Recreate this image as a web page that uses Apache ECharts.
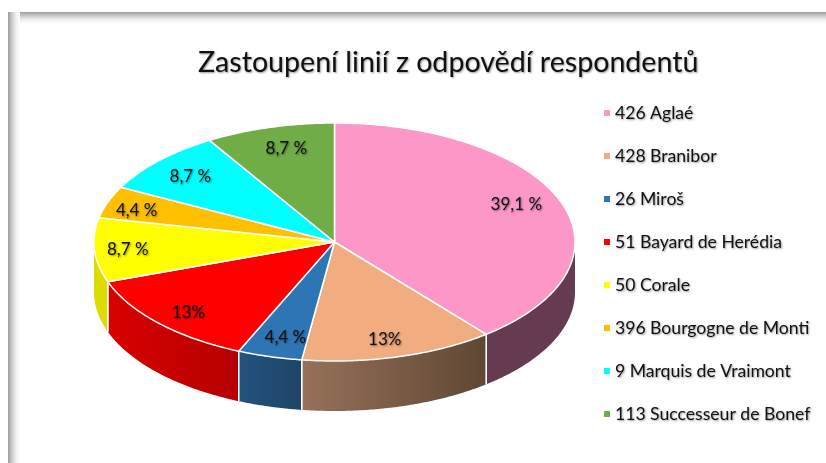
<!DOCTYPE html>
<html><head><meta charset="utf-8">
<style>html,body{margin:0;padding:0;background:#fff}#c{width:826px;height:463px}</style>
<script src="https://cdn.jsdelivr.net/npm/echarts@6/dist/echarts.min.js"></script>
</head><body><div id="c"></div>
<script>
const categories = ['426 Aglaé','428 Branibor','26 Miroš','51 Bayard de Herédia','50 Corale','396 Bourgogne de Monti','9 Marquis de Vraimont','113 Successeur de Bonef'];
const values = [9,3,1,3,2,1,2,2];
const labels = ['39,1 %','13%','4,4 %','13%','8,7 %','4,4 %','8,7 %','8,7 %'];
const topColors = ['#fd97c8','#f1ad80','#2e75b6','#ff0000','#ffff00','#ffc000','#00ffff','#70ad47'];
const wallStart = ['#663a50','#97715a','#24527f','#d90000','#dcdc00','#b38600','#00b3b3','#4e7932'];
const wallEnd   = ['#663a50','#5f4733','#1d4566','#b50000','#dcdc00','#b38600','#00b3b3','#4e7932'];
const labelNudge = [[-4,-5],[-3,4],[4,2],[-2,4],[-10,1],[-12,1],[0,1],[5,0]];

const cx=334.5, cy=242, rx=240.5, ry=119, depth=50, labelR=0.82;
const total = values.reduce((a,b)=>a+b,0);
const px = a => cx + rx*Math.sin(a);
const py = a => cy - ry*Math.cos(a);
function arcPoints(a0,a1,off){
  const n=Math.max(2,Math.ceil(Math.abs(a1-a0)/0.01)), pts=[];
  for(let i=0;i<=n;i++){const a=a0+(a1-a0)*i/n; pts.push([px(a),py(a)+(off||0)]);}
  return pts;
}
function renderSlice(idx){
  return function(params,api){
    const before = values.slice(0,idx).reduce((a,b)=>a+b,0);
    const a0 = before/total*2*Math.PI;
    const a1 = a0 + api.value(0)/total*2*Math.PI;
    const kids=[];
    const w0=Math.max(a0,Math.PI/2), w1=Math.min(a1,Math.PI*1.5);
    if(w1>w0){
      const top=arcPoints(w0,w1,0), bot=arcPoints(w1,w0,depth);
      kids.push({type:'polygon',z2:1,shape:{points:top.concat(bot)},
        style:{fill:new echarts.graphic.LinearGradient(0,0,1,0,[
          {offset:0,color:wallStart[idx]},{offset:1,color:wallEnd[idx]}]),stroke:null}});
      [w0,w1].forEach(a=>{
        if(a>Math.PI/2+1e-6&&a<Math.PI*1.5-1e-6)
          kids.push({type:'line',z2:2,shape:{x1:px(a),y1:py(a),x2:px(a),y2:py(a)+depth},
            style:{stroke:'#fff',lineWidth:1.3}});
      });
    }
    kids.push({type:'polygon',z2:3,shape:{points:[[cx,cy]].concat(arcPoints(a0,a1,0))},
      style:{fill:topColors[idx],stroke:'#fff',lineWidth:1.5,lineJoin:'round'}});
    const m=(a0+a1)/2;
    kids.push({type:'text',z2:10,style:{
      x:cx+rx*labelR*Math.sin(m)+labelNudge[idx][0], y:cy-ry*labelR*Math.cos(m)+labelNudge[idx][1],
      text:labels[idx],align:'center',verticalAlign:'middle',
      font:'17px Lato',fill:'#111',textShadowColor:'rgba(0,0,0,0.45)',textShadowBlur:2,textShadowOffsetX:1,textShadowOffsetY:1}});
    return {type:'group',children:kids};
  };
}
const edge=(x,y,w,h,x2,y2)=>({type:'rect',silent:true,shape:{x,y,width:w,height:h},z:-1,
  style:{fill:new echarts.graphic.LinearGradient(0,0,x2,y2,[
    {offset:0,color:'#9c9c9c'},{offset:0.3,color:'#c8c8c8'},{offset:0.65,color:'#efefef'},{offset:1,color:'#ffffff'}])}});
const chart=echarts.init(document.getElementById('c'),null,{renderer:'canvas',width:826,height:463});
chart.setOption({
  animation:false,
  backgroundColor:'#ffffff',
  title:{text:'Zastoupení linií z odpovědí respondentů',left:193,top:43,
    textStyle:{fontFamily:'Lato',fontWeight:'normal',fontSize:28.6,color:'#111',
      textShadowColor:'rgba(0,0,0,0.4)',textShadowBlur:2,textShadowOffsetX:1,textShadowOffsetY:1}},
  legend:{orient:'vertical',left:604,top:104,padding:0,itemWidth:6,itemHeight:6,itemGap:25,icon:'rect',selectedMode:false,
    data:categories,
    textStyle:{fontFamily:'Lato',fontSize:17.6,lineHeight:18,color:'#111',
      textShadowColor:'rgba(0,0,0,0.4)',textShadowBlur:2,textShadowOffsetX:1,textShadowOffsetY:1}},
  graphic:[edge(8,12,818,12,0,1),edge(8,12,12,451,1,0)],
  series:categories.map((name,i)=>({
    type:'custom',name,coordinateSystem:'none',silent:true,
    itemStyle:{color:topColors[i]},
    renderItem:renderSlice(i),data:[[values[i]]]
  }))
});
</script></body></html>
